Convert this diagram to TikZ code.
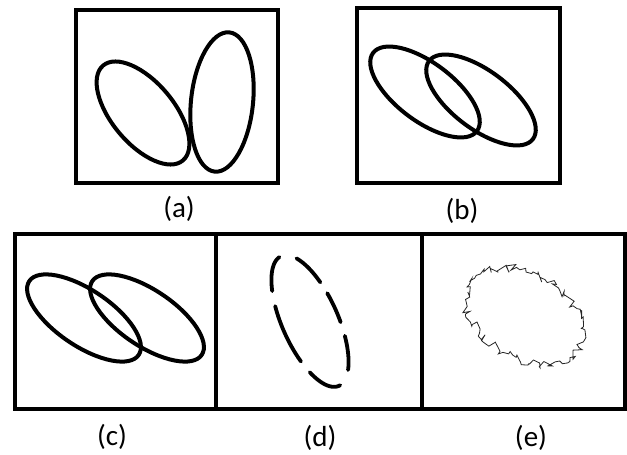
\documentclass[tikz,border=0pt]{standalone}
\usepackage{fontspec}
\setmainfont{Carlito}
\usetikzlibrary{decorations.pathmorphing}
\begin{document}
\begin{tikzpicture}[x=1pt,y=1pt,
  frame/.style={draw=black, line width=3.6pt},
  ring/.style={draw=black, line width=4pt},
  dashring/.style={draw=black, line width=3.8pt, line cap=round},
  roughring/.style={draw=black!85, line width=0.8pt, decorate,
     decoration={random steps, segment length=3pt, amplitude=4.4pt}},
  lab/.style={font=\fontsize{29}{33}\selectfont, inner sep=0pt}]
\useasboundingbox (0,0) rectangle (627,455);
% frames
\draw[frame] (76,272) rectangle (278,445);
\draw[frame] (357,272) rectangle (560,447);
\draw[frame] (15,46) rectangle (216,221);
\draw[frame] (216,46) rectangle (422,221);
\draw[frame] (422,46) rectangle (625,221);
% (a)
\draw[ring, shift={(143,342)}, rotate=-50] (0,0) ellipse [x radius=62pt, y radius=31pt];
\draw[ring, shift={(222,353)}, rotate=84] (0,0) ellipse [x radius=70pt, y radius=31pt];
% (b)
\draw[ring, shift={(425,363)}, rotate=-37] (0,0) ellipse [x radius=65pt, y radius=29pt];
\draw[ring, shift={(481,355)}, rotate=-37] (0,0) ellipse [x radius=65pt, y radius=29pt];
% (c)
\draw[ring, shift={(84,137)}, rotate=-34] (0,0) ellipse [x radius=66pt, y radius=28pt];
\draw[ring, shift={(147,137)}, rotate=-34] (0,0) ellipse [x radius=66pt, y radius=28pt];
% (d)
\begin{scope}[shift={(310,134)}, rotate=114]
  \foreach \ta/\tb in {4/53, 67/118, 131/183, 212/247, 259/285, 296/332}
    \draw[dashring] plot[domain=\ta:\tb, samples=30, smooth] ({71*cos(\x)}, {28*sin(\x)});
\end{scope}
% (e)
\pgfmathsetseed{4321}
\draw[roughring, shift={(524,139)}, rotate=-30] (0,0) ellipse [x radius=63pt, y radius=42pt];
% labels
\node[lab] (la) at (179,246) {(a)};
\node[lab] (lb) at (462,244) {(b)};
\node[lab] (lc) at (112,18) {(c)};
\node[lab] (ld) at (320,17) {(d)};
\node[lab] (le) at (531,17) {(e)};
\end{tikzpicture}
\end{document}
